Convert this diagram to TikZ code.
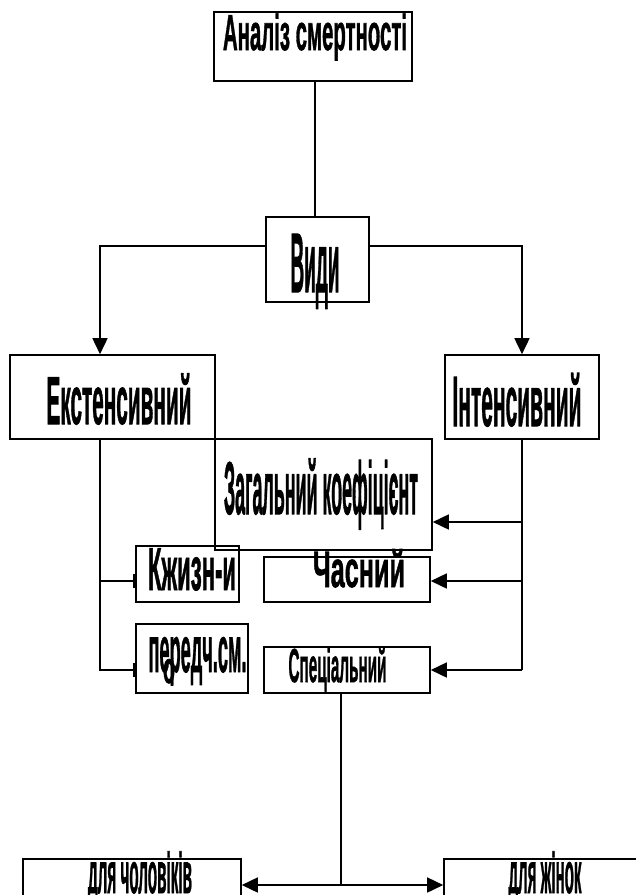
\documentclass[tikz,border=0pt]{standalone}
\usepackage{fontspec}
\setmainfont{Liberation Sans}
\usetikzlibrary{arrows.meta}
\newcommand{\squeeze}[3]{\resizebox{#1pt}{#2pt}{\bfseries\addfontfeature{FakeBold=1.5}#3}}

\begin{document}
\begin{tikzpicture}[x=1pt, y=-1pt, line width=1.6pt,
    box/.style={draw, rectangle, inner sep=0pt},
    word/.style={inner sep=0pt, anchor=base},
    arr/.style={-{Triangle[length=16pt,width=15pt]}},
    tick/.style={-{Bar[width=14pt,line width=2.4pt]}}]
    % Fix the page
    \useasboundingbox (0,0) rectangle (636,895);
    \clip (0,0) rectangle (636,895);

    % Draw the boxes
    \node[box, minimum width=198pt, minimum height=69pt] (top) at (313,46.5) {};
    \node[box, minimum width=103pt, minimum height=85pt] (vidy) at (317.5,259.5) {};
    \node[box, minimum width=205pt, minimum height=84pt] (ext) at (112.5,397) {};
    \node[box, minimum width=154pt, minimum height=84pt] (int) at (522,397) {};
    \node[box, minimum width=217pt, minimum height=111pt] (zag) at (323.5,494.5) {};
    \node[box, minimum width=103pt, minimum height=56pt] (kzh) at (187.5,574) {};
    \node[box, minimum width=166pt, minimum height=45pt] (chas) at (347,579.5) {};
    \node[box, minimum width=112pt, minimum height=69pt] (pered) at (192,658.5) {};
    \node[box, minimum width=166pt, minimum height=46pt] (spec) at (347,670) {};
    \node[box, minimum width=218pt, minimum height=52pt] (men) at (132,885) {};
    \node[box, minimum width=216pt, minimum height=52pt] (wom) at (552,885) {};

    % Add the texts
    \node[word] (top-t) at (315,50) {\squeeze{184}{36.7}{Аналіз смертності}};
    \node[word] (vidy-t) at (315,292) {\squeeze{49}{58}{Види}};
    \node[word] (ext-t) at (119,424) {\squeeze{145}{50.5}{Екстенсивний}};
    \node[word] (int-t) at (517,426) {\squeeze{129}{53}{Інтенсивний}};
    \node[word] (zag-t) at (321,514) {\squeeze{194}{55.6}{Загальний коефіцієнт}};
    \node[word] (kzh-t) at (192,590) {\squeeze{88}{41.7}{Кжизн-и}};
    \node[word] (chas-t) at (359,587) {\squeeze{92}{38}{Часний}};
    \node[word] (pered-t) at (197.5,672) {\squeeze{98}{35}{передч.см.}};
    \node[word] (pered-o) at (169,683) {\squeeze{12}{24}{о}};
    \node[word] (spec-t) at (337.5,682) {\squeeze{98}{35.4}{Спеціальний}};
    \node[word] (men-t) at (140,893) {\squeeze{104}{41.7}{для чоловіків}};
    \node[word] (wom-t) at (545,893) {\squeeze{73}{41.7}{для жінок}};

    % Top of the tree
    \draw ([xshift=2pt]top.south) -- ([xshift=2pt]top.south |- vidy.north);
    \draw[arr] ([yshift=13.5pt]vidy.west) -| ([xshift=-12.5pt]ext.north);
    \draw[arr] ([yshift=13.5pt]vidy.east) -| (int.north);

    % Left branch
    \coordinate (ev) at ([xshift=-12.5pt]ext.south);
    \draw (ev) |- ([yshift=-11.5pt]pered.west);
    \draw[tick] ([yshift=-7pt]kzh.west -| ev) -- ([yshift=-7pt]kzh.west);
    \draw[tick] ([yshift=-11.5pt]pered.west -| ev) -- ([yshift=-11.5pt]pered.west);

    % Right branch
    \coordinate (iv) at (int.south);
    \draw (iv) -- (iv |- spec.east);
    \draw[arr] ([yshift=-27.5pt]zag.east -| iv) -- ([yshift=-27.5pt]zag.east);
    \draw[arr] ([yshift=-1.5pt]chas.east -| iv) -- ([yshift=-1.5pt]chas.east);
    \draw[arr] (iv |- spec.east) -- (spec.east);

    % Bottom split
    \coordinate (sp) at ([xshift=-6pt]spec.south |- men.east);
    \draw ([xshift=-6pt]spec.south) -- (sp);
    \draw[arr] (sp) -- (men.east);
    \draw[arr] (sp) -- (wom.west);
\end{tikzpicture}
\end{document}
